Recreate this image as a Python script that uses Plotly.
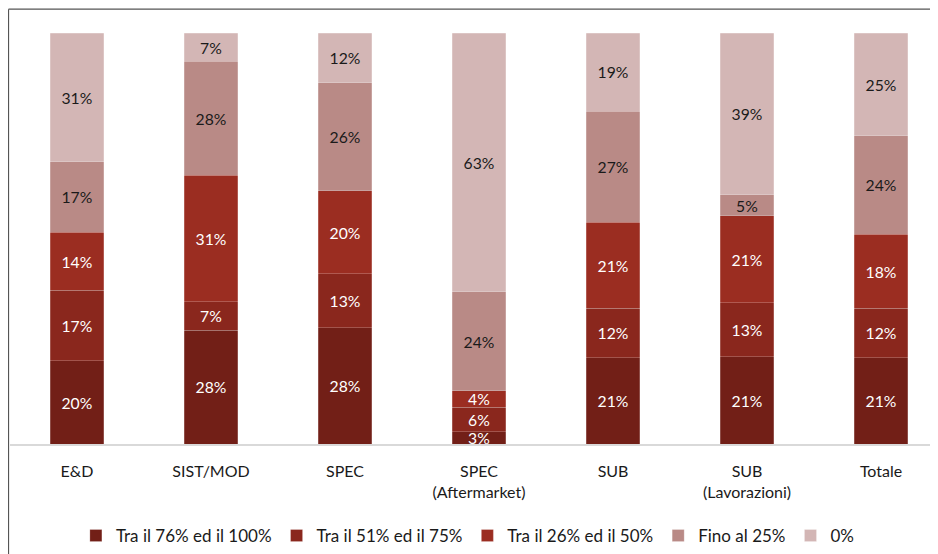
import plotly.graph_objects as go

categories = ["E&D", "SIST/MOD", "SPEC", "SPEC<br>(Aftermarket)", "SUB", "SUB<br>(Lavorazioni)", "Totale"]
series_names = ["Tra il 76% ed il 100%", "Tra il 51% ed il 75%", "Tra il 26% ed il 50%", "Fino al 25%", "0%"]
v_76_100 = [20, 28, 28, 3, 21, 21, 21]
v_51_75 = [17, 7, 13, 6, 12, 13, 12]
v_26_50 = [14, 31, 20, 4, 21, 21, 18]
v_fino25 = [17, 28, 26, 24, 27, 5, 24]
v_zero = [31, 7, 12, 63, 19, 39, 25]

series_values = [v_76_100, v_51_75, v_26_50, v_fino25, v_zero]
colors = ["#721f17", "#8a271d", "#9b2d21", "#b98a86", "#d3b6b5"]
text_colors = ["white", "white", "white", "#1a1a1a", "#1a1a1a"]

FONT = "Lato"

fig = go.Figure()
for name, vals, col, tcol in zip(series_names, series_values, colors, text_colors):
    fig.add_trace(go.Bar(
        x=categories, y=vals, name=name,
        marker=dict(color=col, line=dict(color="rgba(255,255,255,0.35)", width=0.6)),
        text=[f"{v}%" for v in vals], textposition="inside", insidetextanchor="middle",
        textfont=dict(color=tcol, size=16, family=FONT), textangle=0,
        hoverinfo="skip",
    ))

fig.update_layout(
    barmode="stack", barnorm="percent", bargap=0.6,
    width=930, height=546,
    margin=dict(l=2, r=0, t=25, b=108),
    paper_bgcolor="white", plot_bgcolor="white",
    font=dict(family=FONT, size=16, color="#1a1a1a"),
    uniformtext=dict(minsize=15, mode="show"),
    showlegend=True,
    legend=dict(orientation="h", x=0.071, xanchor="left", y=-0.18, yanchor="top",
                font=dict(size=17, family=FONT), traceorder="normal",
                itemclick=False, bgcolor="rgba(0,0,0,0)"),
    xaxis=dict(range=[-0.5, 6.425], showgrid=False, zeroline=False, showline=True,
               linecolor="#d9d9d9", linewidth=2, ticks="", ticklabelstandoff=12,
               tickfont=dict(size=16, family=FONT)),
    yaxis=dict(range=[0, 100], showgrid=False, zeroline=False, showticklabels=False,
               showline=False, ticks=""),
    shapes=[
        dict(type="line", xref="paper", yref="paper", x0=-0.0016, x1=1.01, y0=1.058, y1=1.058,
             line=dict(color="#555555", width=1.2)),
        dict(type="line", xref="paper", yref="paper", x0=-0.0016, x1=-0.0016, y0=1.058, y1=-0.28,
             line=dict(color="#555555", width=1.2)),
    ],
)

fig.write_html("out.html")
